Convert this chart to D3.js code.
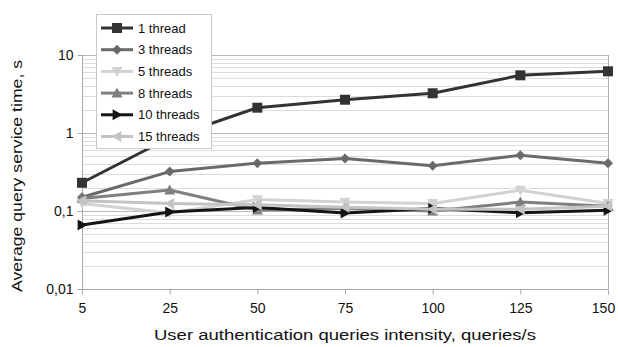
<!DOCTYPE html>
<html><head><meta charset="utf-8">
<script src="https://cdn.jsdelivr.net/npm/d3@7"></script>
<style>body{margin:0;background:#fff}svg{display:block;font-family:"Liberation Sans",Arial,sans-serif}</style>
</head><body><svg id="c" width="618" height="347"></svg>
<script>
const categories = ["5","25","50","75","100","125","150"];
const seriesNames = ["1 thread","3 threads","5 threads","8 threads","10 threads","15 threads"];
const t1  = [0.23, 0.87, 2.11, 2.67, 3.23, 5.49, 6.18];
const t3  = [0.15, 0.32, 0.41, 0.47, 0.38, 0.52, 0.41];
const t5  = [0.125, 0.094, 0.14, 0.13, 0.125, 0.185, 0.125];
const t8  = [0.145, 0.186, 0.103, 0.108, 0.1, 0.13, 0.115];
const t10 = [0.066, 0.097, 0.111, 0.094, 0.108, 0.095, 0.102];
const t15 = [0.135, 0.125, 0.12, 0.112, 0.105, 0.105, 0.115];
const yTicks = [0.01, 0.1, 1, 10];
const yTickLabels = ["0,01", "0,1", "1", "10"];
const xTitle = "User authentication queries intensity, queries/s";
const yTitle = "Average query service time, s";

const seriesValues = [t1, t3, t5, t8, t10, t15];
const colors = ["#333333", "#6a6a6a", "#d2d2d2", "#7f7f7f", "#141414", "#c3c3c3"];
const symbols = ["square", "diamond", "down", "up", "right", "left"];
const FONT = "'Liberation Sans', Arial, sans-serif";

const svg = d3.select("#c");
const L = 82, R = 608, T = 55, B = 289;
const x = d3.scalePoint().domain(categories).range([L, R]);
const y = d3.scaleLog().domain([0.01, 10]).range([B, T]);

// gridlines
const minor = [];
for (let e = -2; e < 1; e++) for (let m = 2; m <= 9; m++) minor.push(m * Math.pow(10, e));
svg.append("g").selectAll("line").data(minor).join("line")
  .attr("x1", L).attr("x2", R).attr("y1", d => Math.round(y(d)) + 0.5).attr("y2", d => Math.round(y(d)) + 0.5)
  .attr("stroke", "#dcdcdc").attr("stroke-width", 1);
svg.append("g").selectAll("line").data(yTicks.slice(1)).join("line")
  .attr("x1", L).attr("x2", R).attr("y1", d => Math.round(y(d)) + 0.5).attr("y2", d => Math.round(y(d)) + 0.5)
  .attr("stroke", "#b8b8b8").attr("stroke-width", 1);
svg.append("line").attr("x1", R + 0.5).attr("x2", R + 0.5).attr("y1", T).attr("y2", B)
  .attr("stroke", "#b0b0b0");

// axes
const yAxis = d3.axisLeft(y).tickValues(yTicks).tickFormat((d, i) => yTickLabels[i]).tickSize(5).tickPadding(4);
const gy = svg.append("g").attr("transform", `translate(${L + 0.5},0)`).call(yAxis);
gy.attr("font-family", null);
gy.select(".domain").attr("stroke", "#a8a8a8").attr("d", `M0,${T}V${B}`);
gy.selectAll(".tick line").attr("stroke", "#a8a8a8");
gy.selectAll(".tick text").attr("font-size", 14).attr("fill", "#111").style("font-family", FONT);

const xAxis = d3.axisBottom(x).tickSize(5).tickPadding(9);
const gx = svg.append("g").attr("transform", `translate(0,${B + 0.5})`).call(xAxis);
gx.attr("font-family", null);
gx.select(".domain").attr("stroke", "#a8a8a8").attr("d", `M${L},0H${R}`);
gx.selectAll(".tick line").attr("stroke", "#a8a8a8");
gx.selectAll(".tick text").attr("font-size", 14).attr("fill", "#111").style("font-family", FONT)
  .attr("dx", (d, i) => i === categories.length - 1 ? -5 : 0);

function markerPath(sym, s) {
  switch (sym) {
    case "square": return `M${-s},${-s}H${s}V${s}H${-s}Z`;
    case "diamond": return `M0,${-s}L${s},0L0,${s}L${-s},0Z`;
    case "up": return `M0,${-s}L${s},${s*0.8}L${-s},${s*0.8}Z`;
    case "down": return `M0,${s}L${s},${-s*0.8}L${-s},${-s*0.8}Z`;
    case "right": return `M${s},0L${-s*0.8},${s}L${-s*0.8},${-s}Z`;
    case "left": return `M${-s},0L${s*0.8},${s}L${s*0.8},${-s}Z`;
  }
}
const sizes = [5, 5, 5.5, 5.5, 5.5, 5.5];

const line = d3.line().x((d, i) => x(categories[i])).y(d => y(d));
const plot = svg.append("g");
seriesValues.forEach((vals, si) => {
  const g = plot.append("g");
  g.append("path").attr("d", line(vals)).attr("fill", "none")
    .attr("stroke", colors[si]).attr("stroke-width", 3).attr("stroke-linejoin", "round");
  g.selectAll("path.m").data(vals).join("path").attr("class", "m")
    .attr("transform", (d, i) => `translate(${x(categories[i])},${y(d)})`)
    .attr("d", markerPath(symbols[si], sizes[si])).attr("fill", colors[si]);
});

// legend
const lg = svg.append("g");
lg.append("rect").attr("x", 96.5).attr("y", 14.5).attr("width", 115).attr("height", 134)
  .attr("fill", "#fff").attr("stroke", "#c8c8c8");
seriesNames.forEach((name, i) => {
  const yy = 28 + i * 21.7;
  lg.append("line").attr("x1", 101).attr("x2", 133).attr("y1", yy).attr("y2", yy)
    .attr("stroke", colors[i]).attr("stroke-width", 3);
  lg.append("path").attr("transform", `translate(117,${yy})`).attr("d", markerPath(symbols[i], sizes[i]))
    .attr("fill", colors[i]);
  lg.append("text").attr("x", 138).attr("y", yy + 4.5).attr("font-size", 13).style("font-family", FONT)
    .attr("fill", "#111").text(name);
});

// titles
svg.append("text").attr("x", 345).attr("y", 340).attr("text-anchor", "middle").style("font-family", FONT)
  .attr("font-size", 14).attr("fill", "#111").attr("textLength", 382).attr("lengthAdjust", "spacingAndGlyphs").text(xTitle);
svg.append("text").attr("transform", "translate(22,176) rotate(-90)").attr("text-anchor", "middle").style("font-family", FONT)
  .attr("font-size", 14).attr("fill", "#111").attr("textLength", 232).attr("lengthAdjust", "spacingAndGlyphs").text(yTitle);
</script></body></html>
